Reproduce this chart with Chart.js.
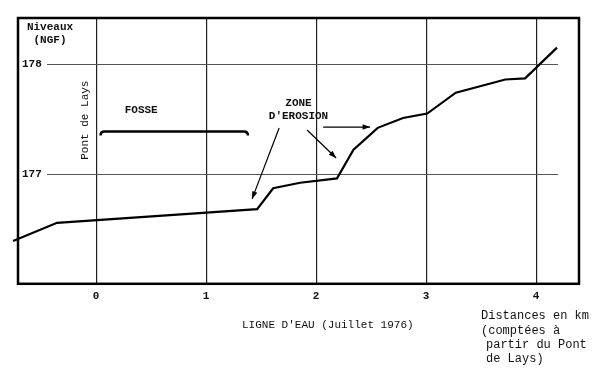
<!DOCTYPE html>
<html lang="fr">
<head>
  <meta charset="UTF-8">
  <title>Ligne d'eau (Juillet 1976)</title>
  <script src="https://cdn.jsdelivr.net/npm/chart.js"></script>
  <style>
    html, body { margin: 0; padding: 0; background: #fff; }
    #wrap { width: 600px; height: 374px; }
  </style>
</head>
<body>
  <div id="wrap"><canvas id="ligneChart"></canvas></div>

  <script>
    // distances en km (depuis le Pont de Lays) et niveaux NGF relevés
    const distances = [-0.755, -0.355, 1.464, 1.61, 1.855, 2.19, 2.34, 2.56, 2.79, 3.01, 3.27, 3.72, 3.90, 4.19];
    const niveaux = [176.39, 176.555, 176.68, 176.87, 176.92, 176.96, 177.22, 177.42, 177.51, 177.55, 177.74, 177.86, 177.87, 178.15];

    const xTicks = [0, 1, 2, 3, 4];
    const yTicks = [177, 178];

    // annotations (en unités du graphique)
    const fosse = { from: 0.04, to: 1.38, level: 177.386 };
    const arrows = [
      [1.664, 177.418, 1.418, 176.773],
      [1.918, 177.40, 2.182, 177.145],
      [2.064, 177.427, 2.491, 177.427]
    ];

    const mono = '"Liberation Mono", "DejaVu Sans Mono", monospace';

    const decor = {
      id: 'decor',
      beforeDatasetsDraw(chart) {
        const { ctx, chartArea: a, scales: { y } } = chart;
        ctx.save();
        // lignes de niveau, un peu en retrait du cadre
        ctx.strokeStyle = '#555';
        ctx.lineWidth = 1.2;
        yTicks.forEach(v => {
          const py = Math.round(y.getPixelForValue(v)) + 0.5;
          ctx.beginPath();
          ctx.moveTo(a.left + 29, py);
          ctx.lineTo(a.right - 21, py);
          ctx.stroke();
        });
        ctx.restore();
      },
      afterDatasetsDraw(chart) {
        const { ctx, chartArea: a, scales: { x, y } } = chart;
        ctx.save();
        // cadre
        ctx.strokeStyle = '#000';
        ctx.lineWidth = 2.5;
        ctx.strokeRect(a.left, a.top, a.right - a.left, a.bottom - a.top);

        // accolade FOSSE
        const fx1 = x.getPixelForValue(fosse.from), fx2 = x.getPixelForValue(fosse.to);
        const fy = y.getPixelForValue(fosse.level);
        ctx.lineWidth = 2.5;
        ctx.beginPath();
        ctx.moveTo(fx1, fy + 4);
        ctx.quadraticCurveTo(fx1, fy, fx1 + 4, fy);
        ctx.lineTo(fx2 - 4, fy);
        ctx.quadraticCurveTo(fx2, fy, fx2, fy + 4);
        ctx.stroke();

        // fleches
        ctx.lineWidth = 1.2;
        ctx.fillStyle = '#000';
        arrows.forEach(([x1, y1, x2, y2]) => {
          const px1 = x.getPixelForValue(x1), py1 = y.getPixelForValue(y1);
          const px2 = x.getPixelForValue(x2), py2 = y.getPixelForValue(y2);
          const ang = Math.atan2(py2 - py1, px2 - px1);
          ctx.beginPath();
          ctx.moveTo(px1, py1);
          ctx.lineTo(px2, py2);
          ctx.stroke();
          ctx.beginPath();
          ctx.moveTo(px2, py2);
          ctx.lineTo(px2 - 8 * Math.cos(ang - 0.35), py2 - 8 * Math.sin(ang - 0.35));
          ctx.lineTo(px2 - 8 * Math.cos(ang + 0.35), py2 - 8 * Math.sin(ang + 0.35));
          ctx.closePath();
          ctx.fill();
        });

        // textes
        ctx.fillStyle = '#111';
        ctx.textBaseline = 'middle';
        ctx.textAlign = 'center';
        ctx.font = 'bold 11px ' + mono;
        ctx.fillText('Niveaux', a.left + 32, a.top + 9);
        ctx.fillText('(NGF)', a.left + 32, a.top + 22);
        ctx.fillText('FOSSE', x.getPixelForValue(0.41), y.getPixelForValue(177.58));
        ctx.fillText('ZONE', x.getPixelForValue(1.84), y.getPixelForValue(177.64));
        ctx.fillText("D'EROSION", x.getPixelForValue(1.84), y.getPixelForValue(177.53));

        ctx.font = '11px ' + mono;
        ctx.save();
        ctx.translate(x.getPixelForValue(-0.1), y.getPixelForValue(177.49));
        ctx.rotate(-Math.PI / 2);
        ctx.fillText('Pont de Lays', 0, 0);
        ctx.restore();

        ctx.textAlign = 'left';
        ctx.fillText("LIGNE D'EAU (Juillet 1976)", 242, 325);
        ctx.font = '12px ' + mono;
        ctx.fillText('Distances en km', 481, 316);
        ctx.fillText('(comptées à', 481, 331);
        ctx.fillText('partir du Pont', 486, 345);
        ctx.fillText('de Lays)', 486, 359);
        ctx.restore();
      }
    };

    new Chart(document.getElementById('ligneChart').getContext('2d'), {
      type: 'line',
      data: {
        datasets: [{
          label: "Ligne d'eau",
          data: distances.map((d, i) => ({ x: d, y: niveaux[i] })),
          borderColor: '#000',
          borderWidth: 2.2,
          pointRadius: 0,
          tension: 0,
          fill: false,
          clip: false
        }]
      },
      options: {
        responsive: true,
        maintainAspectRatio: false,
        animation: false,
        layout: { padding: { left: 10, top: 18, right: 21, bottom: 65 } },
        scales: {
          x: {
            type: 'linear',
            min: -0.71,
            max: 4.39,
            afterBuildTicks: s => { s.ticks = xTicks.map(v => ({ value: v })); },
            ticks: { color: '#111', padding: 6, font: { family: mono, size: 11, weight: 'bold' } },
            grid: { color: '#222', lineWidth: 1.2, drawTicks: false },
            border: { display: false }
          },
          y: {
            min: 176.0,
            max: 178.42,
            afterBuildTicks: s => { s.ticks = yTicks.map(v => ({ value: v })); },
            ticks: { mirror: true, color: '#111', padding: 4, font: { family: mono, size: 11, weight: 'bold' } },
            grid: { display: false, drawTicks: false },
            border: { display: false }
          }
        },
        plugins: {
          legend: { display: false },
          tooltip: { enabled: false }
        }
      },
      plugins: [decor]
    });
  </script>
</body>
</html>
